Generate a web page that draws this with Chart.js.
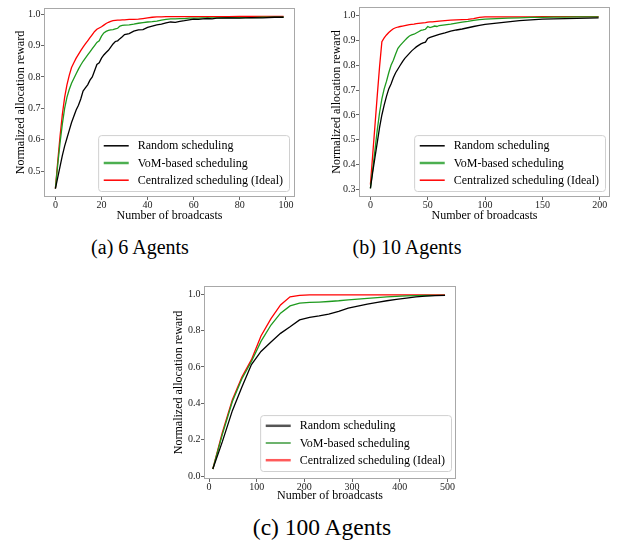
<!DOCTYPE html>
<html>
<head>
<meta charset="utf-8">
<script src="https://cdn.jsdelivr.net/npm/chart.js@4.4.1/dist/chart.umd.min.js"></script>
<style>
  body { margin: 0; background: #fff; width: 619px; height: 542px; position: relative; overflow: hidden; font-family: "Liberation Serif", "Times New Roman", serif; }
  canvas { position: absolute; }
  .cap { position: absolute; transform: translate(-50%, -50%); white-space: nowrap; color: #000; }
</style>
</head>
<body>
<canvas id="c6" width="305" height="230" style="left:0;top:0"></canvas>
<canvas id="c10" width="309" height="230" style="left:310px;top:0"></canvas>
<canvas id="c100" width="320" height="232" style="left:150px;top:276px"></canvas>
<div class="cap" style="left:140px;top:247px;font-size:20px">(a) 6 Agents</div>
<div class="cap" style="left:407px;top:247px;font-size:20px">(b) 10 Agents</div>
<div class="cap" style="left:322px;top:527px;font-size:23.5px">(c) 100 Agents</div>
<script>
const seriesNames = ["Random scheduling", "VoM-based scheduling", "Centralized scheduling (Ideal)"];

// (a) 6 agents
const broadcasts6 = [0,1,2,3,4,5,6,7,8,9,10,11,12,13,14,15,16,17,18,19,20,21,22,23,24,25,26,27,28,29,30,
  32,34,36,38,40,42,44,46,48,50,52,54,56,58,60,62,64,66,68,70,75,80,85,90,95,99];
const random6 = [0.445,0.48,0.515,0.55,0.58,0.605,0.63,0.655,0.675,0.695,0.71,0.73,0.755,0.765,0.775,0.79,0.80,0.82,0.84,0.845,
  0.86,0.87,0.878,0.885,0.895,0.905,0.913,0.915,0.922,0.928,0.935,
  0.938,0.946,0.95,0.951,0.958,0.962,0.966,0.968,0.972,0.975,0.974,0.977,0.979,0.982,0.984,0.983,0.985,0.986,0.985,0.987,
  0.988,0.987,0.989,0.988,0.990,0.990];
const vom6 = [0.445,0.52,0.59,0.65,0.70,0.735,0.76,0.78,0.795,0.81,0.825,0.838,0.85,0.86,0.87,0.88,0.89,0.90,0.91,0.915,
  0.93,0.94,0.945,0.948,0.95,0.951,0.953,0.955,0.962,0.964,0.965,
  0.966,0.968,0.971,0.973,0.975,0.976,0.978,0.981,0.983,0.985,0.985,0.986,0.986,0.987,0.987,0.987,0.988,0.988,0.988,0.988,
  0.989,0.989,0.989,0.990,0.990,0.990];
const central6 = [0.445,0.53,0.61,0.68,0.735,0.775,0.805,0.83,0.845,0.86,0.872,0.884,0.895,0.905,0.915,0.925,0.935,0.945,0.952,0.956,
  0.96,0.965,0.97,0.974,0.977,0.979,0.98,0.981,0.981,0.982,0.982,
  0.983,0.983,0.984,0.986,0.988,0.99,0.991,0.991,0.992,0.992,0.992,0.992,0.992,0.992,0.992,0.992,0.992,0.992,0.992,0.992,
  0.992,0.993,0.993,0.993,0.993,0.993];
const xTicks6 = [0, 20, 40, 60, 80, 100];
const yTicks6 = [0.5, 0.6, 0.7, 0.8, 0.9, 1.0];

// (b) 10 agents
const broadcasts10 = [0,2,4,6,8,10,12,14,16,18,20,22,24,26,28,30,32,34,36,38,40,42,44,46,48,50,52,54,56,58,60,
  65,70,75,80,85,90,95,100,110,120,130,140,150,160,170,180,190,199];
const random10 = [0.305,0.37,0.43,0.49,0.55,0.6,0.64,0.675,0.705,0.725,0.75,0.77,0.785,0.8,0.815,0.828,0.838,0.848,0.858,0.866,
  0.874,0.88,0.886,0.89,0.893,0.908,0.912,0.915,0.918,0.921,0.924,
  0.93,0.937,0.942,0.946,0.951,0.956,0.961,0.965,0.97,0.975,0.98,0.983,0.986,0.987,0.988,0.989,0.99,0.991];
const vom10 = [0.305,0.38,0.46,0.54,0.61,0.665,0.705,0.735,0.77,0.80,0.82,0.845,0.868,0.88,0.89,0.90,0.91,0.918,0.922,0.925,
  0.93,0.935,0.94,0.942,0.945,0.956,0.952,0.955,0.958,0.956,0.96,
  0.963,0.966,0.97,0.974,0.977,0.981,0.984,0.986,0.988,0.99,0.991,0.993,0.993,0.994,0.994,0.995,0.995,0.995];
const central10 = [0.32,0.44,0.56,0.68,0.795,0.895,0.91,0.922,0.932,0.94,0.947,0.951,0.954,0.956,0.958,0.96,0.962,0.964,0.965,0.966,
  0.968,0.969,0.97,0.971,0.972,0.974,0.975,0.975,0.976,0.977,0.978,
  0.98,0.982,0.983,0.984,0.985,0.988,0.993,0.995,0.995,0.995,0.995,0.995,0.996,0.996,0.996,0.996,0.996,0.996];
const xTicks10 = [0, 50, 100, 150, 200];
const yTicks10 = [0.3, 0.4, 0.5, 0.6, 0.7, 0.8, 0.9, 1.0];

// (c) 100 agents
const broadcasts100 = [8,28,49,69,89,109,130,150,170,190,211,231,251,272,292,312,332,353,373,393,414,434,454,474,495];
const random100 = [0.04,0.19,0.36,0.49,0.613,0.685,0.737,0.784,0.82,0.858,0.872,0.88,0.89,0.905,0.922,0.934,0.944,0.954,0.963,0.971,
  0.978,0.984,0.988,0.991,0.993];
const vom100 = [0.04,0.23,0.41,0.535,0.63,0.74,0.83,0.895,0.935,0.95,0.954,0.956,0.959,0.963,0.968,0.972,0.976,0.98,0.984,0.987,
  0.99,0.991,0.992,0.993,0.993];
const central100 = [0.04,0.24,0.42,0.545,0.64,0.77,0.865,0.94,0.985,0.993,0.995,0.995,0.995,0.995,0.995,0.995,0.995,0.995,0.995,0.995,
  0.995,0.995,0.995,0.995,0.995];
const xTicks100 = [0, 100, 200, 300, 400, 500];
const yTicks100 = [0.0, 0.2, 0.4, 0.6, 0.8, 1.0];

Chart.defaults.font.family = '"Liberation Serif", "Times New Roman", serif';
Chart.defaults.font.size = 12;
Chart.defaults.color = '#000';

// box around the plot and a matplotlib-like legend in the lower right
const frameLegend = {
  id: 'frameLegend',
  afterDraw(chart, args, opts) {
    const { ctx, chartArea: a } = chart;
    ctx.save();
    ctx.strokeStyle = '#a8a8a8';
    ctx.lineWidth = 1;
    ctx.strokeRect(Math.round(a.left) + 0.5, Math.round(a.top) + 0.5, Math.round(a.width) - 1, Math.round(a.height) - 1);

    ctx.font = '12px "Liberation Serif", "Times New Roman", serif';
    const labels = chart.data.datasets.map(d => d.label);
    const tw = Math.max(...labels.map(t => ctx.measureText(t).width));
    const rowH = 17.2, pad = 5.6, lineLen = 25, gap = 9;
    const w = pad + lineLen + gap + tw + 6;
    const h = rowH * labels.length + 4.3;
    const x = a.right - opts.mr - w;
    const y = a.bottom - opts.mb - h;
    ctx.beginPath();
    ctx.roundRect(x + 0.5, y + 0.5, w, h, 3);
    ctx.fillStyle = 'rgba(255,255,255,0.85)';
    ctx.fill();
    ctx.strokeStyle = '#d0d0d0';
    ctx.stroke();
    labels.forEach((t, i) => {
      const cy = y + 2.1 + rowH * (i + 0.5);
      const st = opts.lines[i];
      ctx.beginPath();
      ctx.moveTo(x + pad, cy);
      ctx.lineTo(x + pad + lineLen, cy);
      ctx.strokeStyle = st.color;
      ctx.lineWidth = st.width;
      ctx.stroke();
      ctx.fillStyle = '#000';
      ctx.textBaseline = 'middle';
      ctx.textAlign = 'left';
      ctx.fillText(t, x + pad + lineLen + gap, cy + 0.5);
    });
    ctx.restore();
  }
};

function makeChart(id, xs, series, cfg) {
  const colors = ['#000000', '#1e9a1e', '#ff0000'];
  const datasets = series.map((ys, i) => ({
    label: seriesNames[i],
    data: xs.map((x, j) => ({ x: x, y: ys[j] })),
    borderColor: colors[i],
    borderWidth: 1.3,
    pointRadius: 0,
    tension: 0,
    fill: false
  }));
  return new Chart(document.getElementById(id), {
    type: 'line',
    data: { datasets: datasets },
    options: {
      responsive: false,
      animation: false,
      events: [],
      layout: { padding: { top: cfg.padTop, right: cfg.padRight, left: 0, bottom: 0 } },
      plugins: {
        legend: { display: false },
        tooltip: { enabled: false },
        frameLegend: { lines: cfg.legendLines, mr: cfg.mr, mb: cfg.mb }
      },
      scales: {
        x: {
          type: 'linear',
          min: cfg.xMin, max: cfg.xMax,
          afterFit(s) { s.height = cfg.xH; },
          afterBuildTicks(s) { s.ticks = cfg.xTicks.map(v => ({ value: v })); },
          ticks: { padding: -1, font: { size: 10 }, color: '#222', callback: v => String(v), maxRotation: 0, autoSkip: false },
          grid: { drawOnChartArea: false, drawTicks: true, tickLength: 3, color: '#666' },
          border: { display: false },
          title: { display: true, text: 'Number of broadcasts', font: { size: 12 }, padding: { top: 0, bottom: cfg.xTitleB } }
        },
        y: {
          type: 'linear',
          min: cfg.yMin, max: cfg.yMax,
          afterFit(s) { s.width = cfg.yW; },
          afterBuildTicks(s) { s.ticks = cfg.yTicks.map(v => ({ value: v })); },
          ticks: { padding: 0.5, font: { size: 10 }, color: '#222', callback: v => v.toFixed(1), autoSkip: false },
          grid: { drawOnChartArea: false, drawTicks: true, tickLength: 3, color: '#666' },
          border: { display: false },
          title: { display: true, text: 'Normalized allocation reward', font: { size: 12 }, padding: { top: cfg.yTitleT, bottom: 0 } }
        }
      }
    },
    plugins: [frameLegend]
  });
}

makeChart('c6', broadcasts6, [random6, vom6, central6], {
  xMin: -4.95, xMax: 103.95, yMin: 0.418, yMax: 1.0195,
  xTicks: xTicks6, yTicks: yTicks6,
  padTop: 8, padRight: 10, xH: 33, yW: 44, xTitleB: 7.3, yTitleT: 13.8, mr: 6, mb: 6,
  legendLines: [{ color: '#000', width: 1.5 }, { color: '#4caf50', width: 2.5 }, { color: '#ff0000', width: 1.5 }]
});

makeChart('c10', broadcasts10, [random10, vom10, central10], {
  xMin: -9.95, xMax: 208.95, yMin: 0.27, yMax: 1.0345,
  xTicks: xTicks10, yTicks: yTicks10,
  padTop: 7, padRight: 9, xH: 33, yW: 49, xTitleB: 7.3, yTitleT: 19.8, mr: 5, mb: 6,
  legendLines: [{ color: '#000', width: 1.5 }, { color: '#4caf50', width: 2.5 }, { color: '#ff0000', width: 1.5 }]
});

makeChart('c100', broadcasts100, [random100, vom100, central100], {
  xMin: -10.5, xMax: 518, yMin: -0.015, yMax: 1.044,
  xTicks: xTicks100, yTicks: yTicks100,
  padTop: 10, padRight: 14, xH: 29, yW: 54, xTitleB: 4.8, yTitleT: 21.5, mr: 5, mb: 8,
  legendLines: [{ color: '#555', width: 2.5 }, { color: '#1e8a1e', width: 1.3 }, { color: '#ff5a5a', width: 2.5 }]
});
</script>
</body>
</html>
